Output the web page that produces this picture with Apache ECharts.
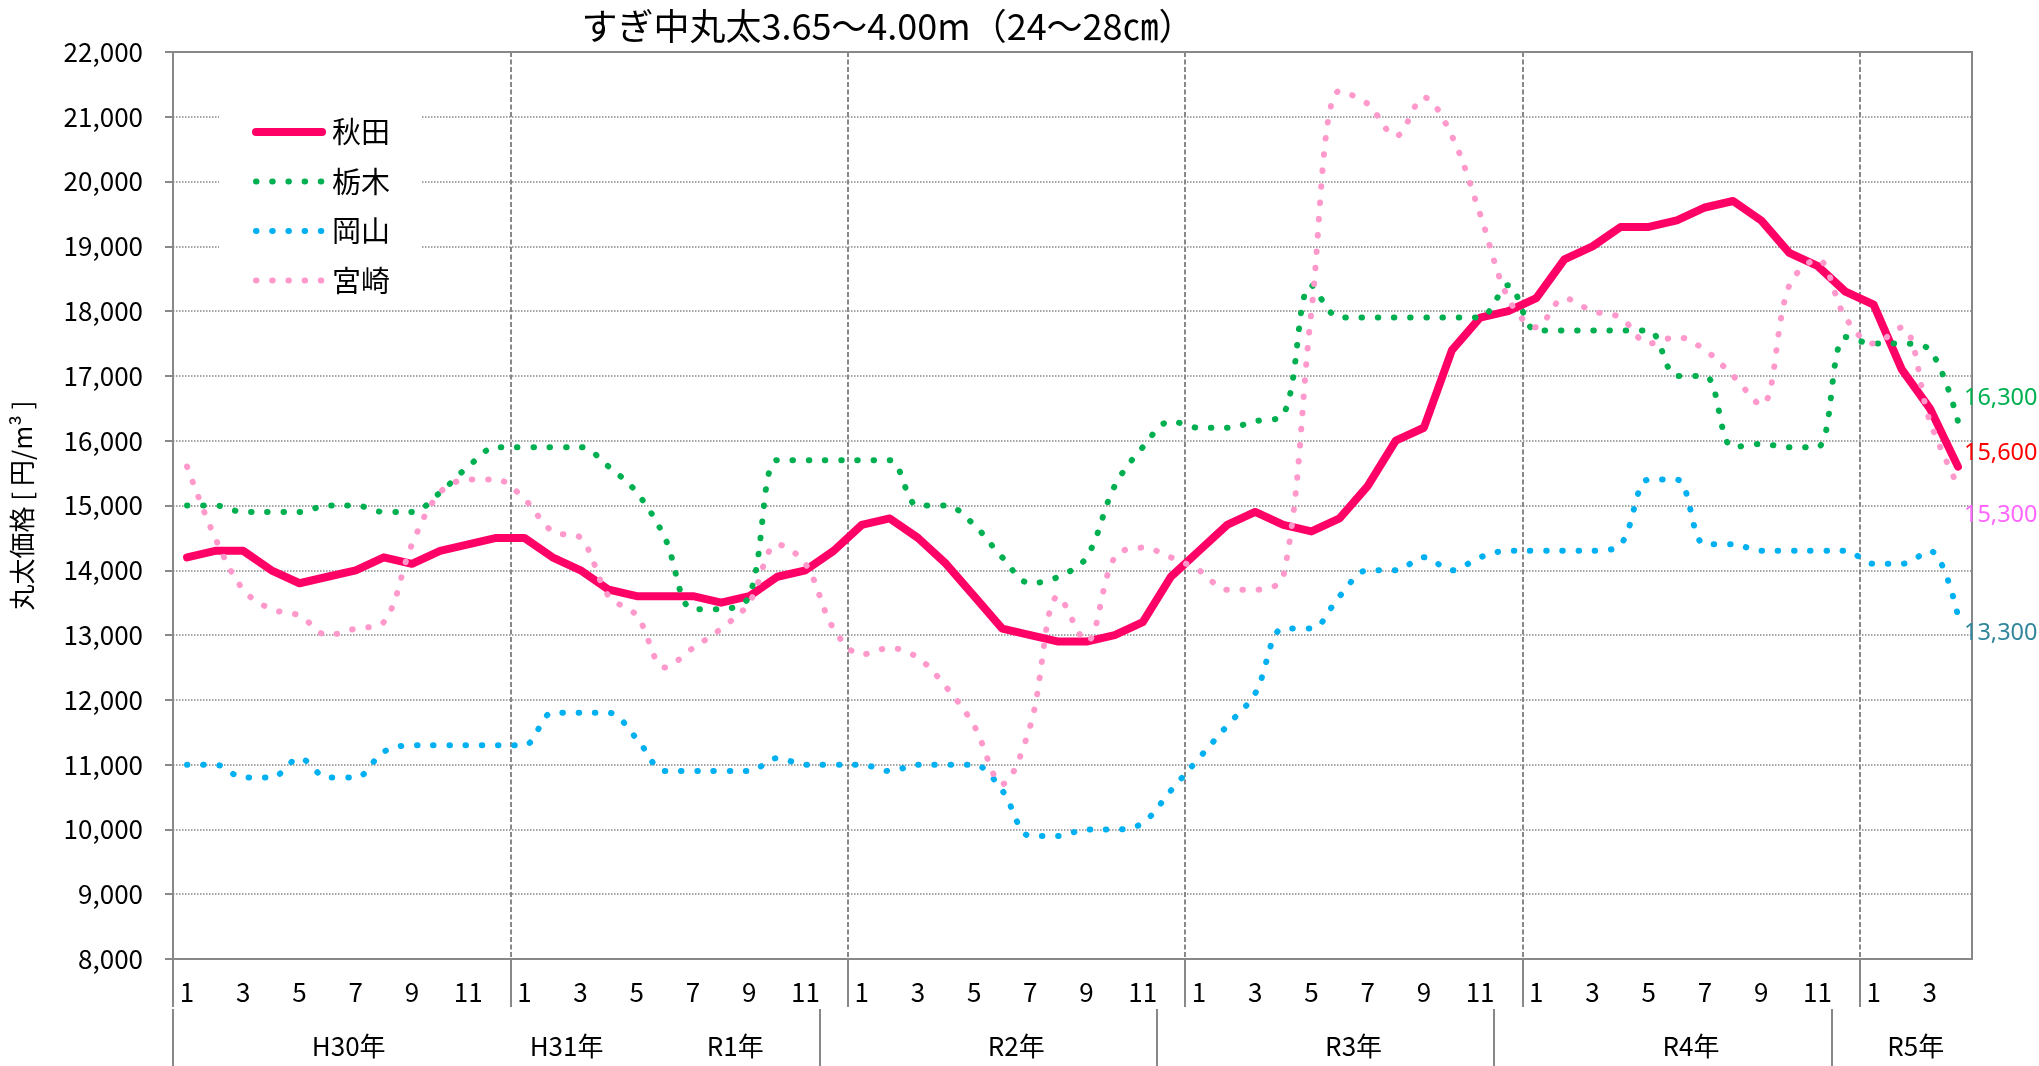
<!DOCTYPE html>
<html><head><meta charset="utf-8">
<script src="https://cdn.jsdelivr.net/npm/echarts@6/dist/echarts.min.js"></script>
<style>html,body{margin:0;padding:0;background:#fff}#c{width:2039px;height:1066px}</style>
</head><body><div id="c"></div>
<script>
// ---- texts ----
const titleText = 'すぎ中丸太3.65～4.00m（24～28㎝）';
const yAxisName = '丸太価格 [ 円/m³ ]';
const seriesNames = ['秋田', '栃木', '岡山', '宮崎'];

// ---- categories (era, first month, last month) ----
const eraSpans = [['H30', 1, 12], ['H31', 1, 4], ['R1', 5, 12], ['R2', 1, 12], ['R3', 1, 12], ['R4', 1, 12], ['R5', 1, 4]];
const yearLabels = ['H30年', 'H31年', 'R1年', 'R2年', 'R3年', 'R4年', 'R5年'];
const yearLabelAt = [5.75, 13.5, 19.5, 29.5, 41.5, 53.5, 61.5];   // month-index position of each year label
const yearDividers = [-0.5, 11.5, 23.5, 35.5, 47.5, 59.5];       // dashed year boundaries
const yearRowDividers = [-0.5, 22.5, 34.5, 46.5, 58.5];          // separators in the year row

// ---- values (円/m3) ----
const akita = [14200,14300,14300,14000,13800,13900,14000,14200,14100,14300,14400,14500,
  14500,14200,14000,13700,13600,13600,13600,13500,13600,13900,14000,14300,
  14700,14800,14500,14100,13600,13100,13000,12900,12900,13000,13200,13900,
  14300,14700,14900,14700,14600,14800,15300,16000,16200,17400,17900,18000,
  18200,18800,19000,19300,19300,19400,19600,19700,19400,18900,18700,18300,
  18100,17100,16500,15600];
const tochigi = [15000,15000,14900,14900,14900,15000,15000,14900,14900,15200,15600,15900,
  15900,15900,15900,15600,15200,14500,13400,13400,13600,15700,15700,15700,
  15700,15700,15000,15000,14700,14200,13800,13900,14200,15300,15900,16300,
  16200,16200,16300,16400,18400,17900,17900,17900,17900,17900,17900,18400,
  17700,17700,17700,17700,17700,17000,17000,15900,15950,15900,15900,17600,
  17500,17500,17400,16300];
const okayama = [11000,11000,10800,10800,11100,10800,10800,11200,11300,11300,11300,11300,
  11300,11800,11800,11800,11400,10900,10900,10900,10900,11100,11000,11000,
  11000,10900,11000,11000,11000,10600,9900,9900,10000,10000,10100,10600,
  11100,11600,12100,13100,13100,13600,14000,14000,14200,14000,14200,14300,
  14300,14300,14300,14400,15400,15400,14400,14400,14300,14300,14300,14300,
  14100,14100,14300,13300];
const miyazaki = [15600,14500,13700,13400,13300,13000,13100,13200,14400,15200,15400,15400,
  15100,14600,14500,13600,13300,12500,12800,13100,13500,14400,14100,13100,
  12700,12800,12650,12200,11600,10700,11600,13600,12900,14200,14350,14200,
  14000,13700,13700,13900,18000,21400,21200,20700,21300,20700,19500,18200,
  17750,18200,18000,17900,17500,17600,17400,17000,16550,18400,18800,17900,
  17500,17750,16300,15300];

// ---- build categories ----
const categories = [];
const monthOf = [];
eraSpans.forEach(([era, a, b]) => { for (let m = a; m <= b; m++) { categories.push(era + '/' + m); monthOf.push(m); } });

const JP = '"Noto Sans CJK JP", "Noto Sans", sans-serif';
const GRAY = '#888888';
const fmt = v => Number(v).toLocaleString('en-US');
const DOT = [0.5, 15.7];

const chart = echarts.init(document.getElementById('c'), null, { renderer: 'canvas' });

function dotted(name, data, color, labelColor, dy) {
  return {
    name, type: 'line', data, xAxisIndex: 0, yAxisIndex: 0,
    smooth: 0.35, symbol: 'none', silent: true,
    lineStyle: { color, width: 6, type: DOT, cap: 'round', join: 'round' },
    itemStyle: { color },
    endLabel: { show: true, formatter: p => fmt(p.value), color: labelColor, fontSize: 23.5,
      fontFamily: '"Noto Sans", sans-serif', distance: 6, offset: [0, dy] }
  };
}

chart.setOption({
  animation: false,
  backgroundColor: '#fff',
  title: { text: titleText, left: 883, textAlign: 'center', top: 3,
    textStyle: { fontFamily: JP, fontSize: 36, fontWeight: 'normal', color: '#000' } },
  grid: { left: 173, right: 67, top: 52, bottom: 107, show: true, borderColor: GRAY, borderWidth: 2,
    containLabel: false, outerBoundsMode: 'none' },
  legend: {
    orient: 'vertical', left: 219, top: 100, padding: [17, 32, 10, 33], backgroundColor: '#fff',
    itemWidth: 66, itemHeight: 14, itemGap: 19.5,
    textStyle: { fontSize: 29, fontFamily: JP, color: '#000', lineHeight: 30, padding: [0, 0, 0, 5] },
    itemStyle: { opacity: 0 },
    data: [
      { name: seriesNames[0], lineStyle: { width: 8, cap: 'round' } },
      { name: seriesNames[1], lineStyle: { width: 6, type: DOT, cap: 'round' } },
      { name: seriesNames[2], lineStyle: { width: 6, type: DOT, cap: 'round' } },
      { name: seriesNames[3], lineStyle: { width: 6, type: DOT, cap: 'round' } }
    ]
  },
  xAxis: [
    { type: 'category', data: categories, boundaryGap: true, position: 'bottom',
      axisLine: { show: true, onZero: false, lineStyle: { color: GRAY, width: 2 } },
      axisTick: { show: false }, splitLine: { show: false },
      axisLabel: { interval: (i) => i % 2 === 0, formatter: (v, i) => String(monthOf[i]),
        fontFamily: JP, fontSize: 26, color: '#000', margin: 20 } },
    { type: 'value', min: -0.5, max: 63.5, position: 'bottom',
      axisLine: { show: false, onZero: false },
      axisTick: { show: true, customValues: yearDividers, length: 48, lineStyle: { color: GRAY, width: 2 } },
      axisLabel: { show: false },
      splitLine: { show: true, lineStyle: { color: GRAY, width: 2, type: [5, 2.5] } } },
    { type: 'value', min: -0.5, max: 63.5, position: 'bottom', offset: 50,
      axisLine: { show: false, onZero: false },
      axisTick: { show: true, customValues: yearRowDividers, length: 60, lineStyle: { color: GRAY, width: 2 } },
      axisLabel: { show: true, customValues: yearLabelAt,
        formatter: v => { const k = yearLabelAt.indexOf(v); return k >= 0 ? yearLabels[k] : ''; },
        fontFamily: JP, fontSize: 26, color: '#000', margin: 24 },
      splitLine: { show: false } }
  ],
  yAxis: {
    type: 'value', min: 8000, max: 22000, interval: 1000,
    name: yAxisName, nameLocation: 'middle', nameGap: 138, nameRotate: 90,
    nameTextStyle: { fontFamily: JP, fontSize: 26, color: '#000' },
    axisLine: { show: true, onZero: false, lineStyle: { color: GRAY, width: 2 } },
    axisTick: { show: true, length: 8, lineStyle: { color: GRAY, width: 2 } },
    axisLabel: { formatter: fmt, fontFamily: JP, fontSize: 26, color: '#000', margin: 30 },
    splitLine: { show: true, lineStyle: { color: GRAY, width: 1.5, type: [1.5, 1.5] } }
  },
  series: [
    { name: seriesNames[0], type: 'line', data: akita, smooth: false, symbol: 'none', silent: true,
      lineStyle: { color: '#FF0066', width: 8, cap: 'round', join: 'round' }, itemStyle: { color: '#FF0066' },
      endLabel: { show: true, formatter: p => fmt(p.value), color: '#FF0000', fontSize: 23.5,
        fontFamily: '"Noto Sans", sans-serif', distance: 6, offset: [0, -13] } },
    dotted(seriesNames[1], tochigi, '#00B050', '#00B050', -23),
    dotted(seriesNames[2], okayama, '#00B0F0', '#31859C', 18),
    dotted(seriesNames[3], miyazaki, '#FF99CC', '#FF66FF', 29)
  ]
});
</script></body></html>
